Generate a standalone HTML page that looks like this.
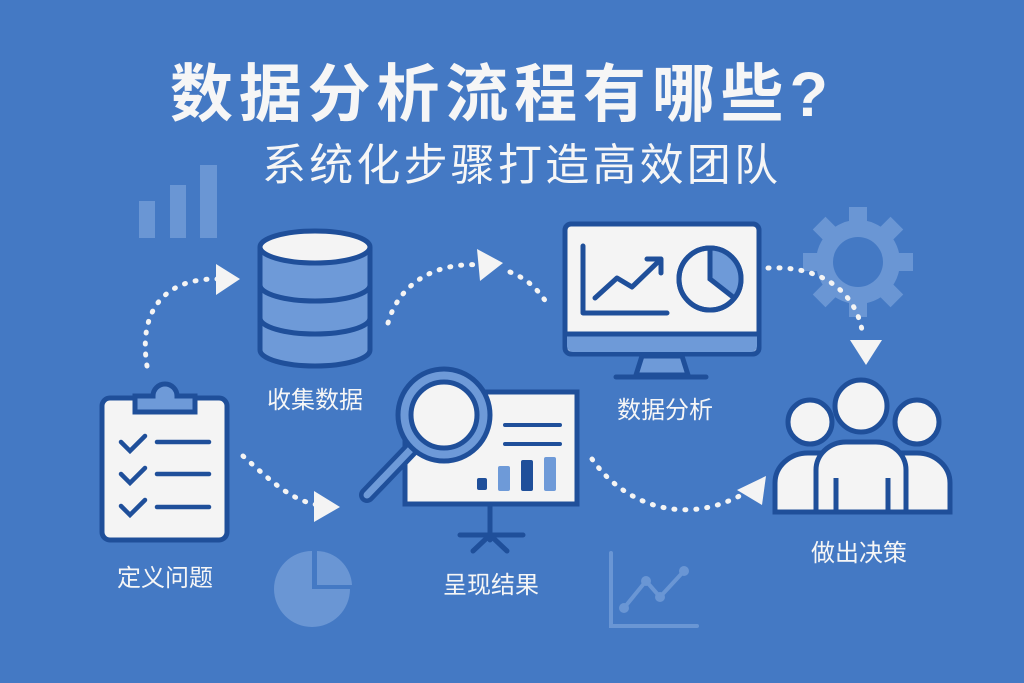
<!DOCTYPE html>
<html><head><meta charset="utf-8"><style>
html,body{margin:0;padding:0;background:#4479c4;}
svg{display:block;}
text{font-family:"Liberation Sans","Noto Sans CJK SC",sans-serif;fill:#f6f6f6;}
</style></head><body>
<svg width="1024" height="683" viewBox="0 0 1024 683" xmlns="http://www.w3.org/2000/svg">
<rect width="1024" height="683" fill="#4479c4"/>
<!-- titles -->
<text x="170" y="116" font-size="63" font-weight="bold" textLength="658" lengthAdjust="spacing">数据分析流程有哪些?</text>
<text x="262" y="180" font-size="44" textLength="516" lengthAdjust="spacing">系统化步骤打造高效团队</text>

<!-- faint decor -->
<g fill="#6a96d4">
<rect x="139" y="201" width="16" height="37"/><rect x="170" y="185" width="16" height="53"/><rect x="200" y="165" width="17" height="73"/>
<path d="M312,551 A38,38 0 1 0 350,589 L312,589 Z"/><path d="M317,551 A36,36 0 0 1 352,585 L317,585 Z"/>
</g>
<g fill="none" stroke="#6a96d4" stroke-width="4" stroke-linecap="round">
<path d="M611,553 V626 H697"/><path d="M624,608 L646,581 L660,597 L684,571"/>
</g>
<g fill="#6a96d4"><circle cx="624" cy="608" r="5"/><circle cx="646" cy="581" r="5"/><circle cx="660" cy="597" r="5"/><circle cx="684" cy="571" r="5"/></g>
<!-- gear -->
<g fill="#6a96d4" transform="translate(858,262)">
<circle r="42"/>
<g><rect x="-9" y="-55" width="18" height="20"/><rect x="-9" y="-55" width="18" height="20" transform="rotate(45)"/><rect x="-9" y="-55" width="18" height="20" transform="rotate(90)"/><rect x="-9" y="-55" width="18" height="20" transform="rotate(135)"/><rect x="-9" y="-55" width="18" height="20" transform="rotate(180)"/><rect x="-9" y="-55" width="18" height="20" transform="rotate(225)"/><rect x="-9" y="-55" width="18" height="20" transform="rotate(270)"/><rect x="-9" y="-55" width="18" height="20" transform="rotate(315)"/></g>
<circle r="25" fill="#4479c4"/>
</g>

<!-- dotted connectors -->
<g fill="none" stroke="#f4f4f4" stroke-width="5" stroke-linecap="round" stroke-dasharray="1 10">
<path d="M147,366 C138,310 165,278 218,279"/>
<path d="M243,456 C270,480 290,500 318,505"/>
<path d="M388,323 C400,280 440,262 480,265"/>
<path d="M510,272 C530,280 540,292 550,308"/>
<path d="M768,268 C830,265 860,300 863,338"/>
<path d="M592,459 C620,500 680,530 745,493"/>
</g>
<g fill="#f4f4f4">
<path d="M216,264 L240,279 L216,295 Z"/>
<path d="M314,491 L340,507 L314,522 Z"/>
<path d="M477,249 L503,263 L480,281 Z"/>
<path d="M850,340 L882,340 L866,365 Z"/>
<path d="M737,490 L766,476 L762,505 Z"/>
</g>

<!-- database -->
<g stroke="#1f4f9a" stroke-width="5" fill="#6e9ad8">
<path d="M260,247 V350 A55,16 0 0 0 370,350 V247"/>
<path d="M260,285 A55,16 0 0 0 370,285" fill="none"/>
<path d="M260,318 A55,16 0 0 0 370,318" fill="none"/>
<ellipse cx="315" cy="247" rx="55" ry="16" fill="#f4f4f4"/>
</g>
<text x="315" y="408" font-size="24" text-anchor="middle">收集数据</text>

<!-- clipboard -->
<g stroke="#1f4f9a" stroke-width="5">
<rect x="102" y="398" width="125" height="142" rx="8" fill="#f4f4f4"/>
<path d="M135,396 H153 A12,12 0 0 1 177,396 H195 V412 H135 Z" fill="#6e9ad8"/>
<g fill="none" stroke-linecap="round" stroke-width="4.5">
<path d="M121,442 L130,451 L145,436"/><path d="M157,442 H209"/>
<path d="M121,474 L130,483 L145,468"/><path d="M157,474 H209"/>
<path d="M121,506 L130,515 L145,500"/><path d="M157,507 H209"/>
</g>
</g>
<text x="165" y="586" font-size="24" text-anchor="middle">定义问题</text>

<!-- presentation board + magnifier -->
<g stroke="#1f4f9a" stroke-width="5">
<rect x="405" y="392" width="172" height="112" fill="#f4f4f4"/>
<path d="M490,505 V540 M460,535 H523 M490,535 L473,551 M490,535 L507,551" fill="none" stroke-linecap="round"/>
<path d="M505,425 H560 M505,444 H560" stroke-linecap="round" stroke-width="4"/>
<rect x="477" y="478" width="10" height="12" rx="2" fill="#1f4f9a" stroke="none"/>
<rect x="498" y="466" width="12" height="25" rx="2" fill="#6e9ad8" stroke="none"/>
<rect x="521" y="460" width="12" height="31" rx="2" fill="#1f4f9a" stroke="none"/>
<rect x="544" y="457" width="12" height="34" rx="2" fill="#6e9ad8" stroke="none"/>
<path d="M413,447 L367,495" stroke-width="16" stroke-linecap="round"/>
<path d="M413,447 L367,495" stroke="#6e9ad8" stroke-width="7" stroke-linecap="round"/>
<circle cx="444" cy="415" r="46" fill="#6e9ad8"/>
<circle cx="444" cy="415" r="33" fill="#f4f4f4"/>
</g>
<text x="491" y="593" font-size="24" text-anchor="middle">呈现结果</text>

<!-- monitor -->
<g stroke="#1f4f9a" stroke-width="5">
<rect x="565" y="224" width="194" height="130" rx="6" fill="#f4f4f4"/>
<path d="M567,336 H757 V346 A6,6 0 0 1 751,352 H573 A6,6 0 0 1 567,346 Z" fill="#6e9ad8" stroke="none"/>
<path d="M566,334 H758" />
<path d="M642,356 L636,375 H688 L682,356 Z" fill="#6e9ad8" stroke-linejoin="round"/>
<path d="M616,377 H706" stroke-linecap="round"/>
<g fill="none" stroke-linecap="round" stroke-linejoin="round">
<path d="M583,246 V313 H667"/>
<path d="M595,298 L617,278 L632,287 L660,260"/>
<path d="M647,259 H661 V273"/>
</g>
<circle cx="710" cy="279" r="31" fill="#f4f4f4"/>
<path d="M710,279 V248 A31,31 0 0 1 734,298 Z" fill="#6e9ad8" stroke="none"/>
<path d="M710,249 V279 L733,297" fill="none"/>
<circle cx="710" cy="279" r="31" fill="none"/>
</g>
<text x="665" y="418" font-size="24" text-anchor="middle">数据分析</text>

<!-- people -->
<g stroke="#1f4f9a" stroke-width="5" fill="#f4f4f4">
<path d="M775,512 V483 A33,30 0 0 1 808,453 H826 A33,30 0 0 1 859,483 V512 Z"/>
<path d="M866,512 V483 A33,30 0 0 1 899,453 H917 A33,30 0 0 1 950,483 V512 Z"/>
<circle cx="810" cy="422" r="22"/>
<circle cx="917" cy="422" r="22"/>
<path d="M816,512 V470 A30,28 0 0 1 846,442 H876 A30,28 0 0 1 906,470 V512 Z"/>
<circle cx="861" cy="406" r="26"/>
<path d="M836,478 V512 M888,478 V512" fill="none"/>
<path d="M775,512 H950" fill="none"/>
</g>
<text x="859" y="561" font-size="24" text-anchor="middle">做出决策</text>
</svg>
</body></html>
